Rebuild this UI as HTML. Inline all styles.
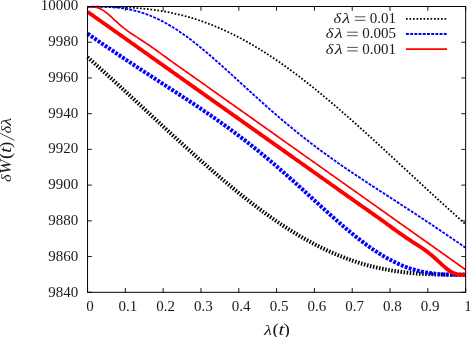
<!DOCTYPE html>
<html><head><meta charset="utf-8"><title>plot</title>
<style>html,body{margin:0;padding:0;background:#fff;}svg{display:block;will-change:transform;}</style></head>
<body><svg width="470" height="337" viewBox="0 0 470 337">
<rect width="470" height="337" fill="#fff"/>
<g fill="none">
<path d="M87.55,6.80 L89.55,6.80 L91.55,6.80 L93.55,6.80 L95.55,6.80 L97.55,6.81 L99.55,6.81 L101.55,6.82 L103.55,6.83 L105.55,6.85 L107.56,6.87 L109.56,6.90 L111.56,6.93 L113.56,6.97 L115.56,7.02 L117.56,7.07 L119.56,7.13 L121.56,7.20 L123.56,7.28 L125.56,7.37 L127.56,7.47 L129.56,7.58 L131.56,7.70 L133.56,7.83 L135.56,7.97 L137.56,8.12 L139.56,8.29 L141.56,8.47 L143.56,8.66 L145.57,8.87 L147.57,9.08 L149.57,9.32 L151.57,9.57 L153.57,9.83 L155.57,10.11 L157.57,10.40 L159.57,10.71 L161.57,11.03 L163.57,11.37 L165.57,11.73 L167.57,12.11 L169.57,12.50 L171.57,12.90 L173.57,13.33 L175.57,13.77 L177.57,14.23 L179.57,14.71 L181.57,15.21 L183.58,15.72 L185.58,16.25 L187.58,16.81 L189.58,17.37 L191.58,17.96 L193.58,18.57 L195.58,19.19 L197.58,19.84 L199.58,20.50 L201.58,21.18 L203.58,21.89 L205.58,22.61 L207.58,23.35 L209.58,24.11 L211.58,24.88 L213.58,25.68 L215.58,26.50 L217.58,27.33 L219.58,28.19 L221.59,29.06 L223.59,29.95 L225.59,30.86 L227.59,31.79 L229.59,32.74 L231.59,33.71 L233.59,34.70 L235.59,35.70 L237.59,36.73 L239.59,37.77 L241.59,38.83 L243.59,39.91 L245.59,41.01 L247.59,42.12 L249.59,43.25 L251.59,44.41 L253.59,45.57 L255.59,46.76 L257.59,47.96 L259.60,49.18 L261.60,50.42 L263.60,51.67 L265.60,52.94 L267.60,54.23 L269.60,55.53 L271.60,56.85 L273.60,58.19 L275.60,59.54 L277.60,60.90 L279.60,62.29 L281.60,63.68 L283.60,65.09 L285.60,66.52 L287.60,67.96 L289.60,69.41 L291.60,70.88 L293.60,72.36 L295.61,73.86 L297.61,75.37 L299.61,76.89 L301.61,78.42 L303.61,79.97 L305.61,81.53 L307.61,83.10 L309.61,84.68 L311.61,86.28 L313.61,87.88 L315.61,89.50 L317.61,91.13 L319.61,92.77 L321.61,94.41 L323.61,96.07 L325.61,97.74 L327.61,99.42 L329.61,101.10 L331.61,102.80 L333.62,104.50 L335.62,106.22 L337.62,107.94 L339.62,109.67 L341.62,111.40 L343.62,113.15 L345.62,114.90 L347.62,116.66 L349.62,118.42 L351.62,120.19 L353.62,121.97 L355.62,123.75 L357.62,125.54 L359.62,127.34 L361.62,129.14 L363.62,130.94 L365.62,132.75 L367.62,134.56 L369.62,136.38 L371.63,138.20 L373.63,140.03 L375.63,141.85 L377.63,143.69 L379.63,145.52 L381.63,147.36 L383.63,149.20 L385.63,151.04 L387.63,152.88 L389.63,154.73 L391.63,156.58 L393.63,158.43 L395.63,160.28 L397.63,162.13 L399.63,163.98 L401.63,165.83 L403.63,167.68 L405.63,169.54 L407.63,171.39 L409.64,173.24 L411.64,175.09 L413.64,176.94 L415.64,178.79 L417.64,180.64 L419.64,182.49 L421.64,184.34 L423.64,186.19 L425.64,188.03 L427.64,189.87 L429.64,191.71 L431.64,193.55 L433.64,195.38 L435.64,197.22 L437.64,199.05 L439.64,200.87 L441.64,202.70 L443.64,204.52 L445.64,206.34 L447.65,208.15 L449.65,209.96 L451.65,211.77 L453.65,213.58 L455.65,215.38 L457.65,217.17 L459.65,218.96 L461.65,220.75 L463.65,222.53 L465.65,224.31" stroke="#000" stroke-width="1.8" stroke-dasharray="1.7 1.8"/>
<path d="M87.55,6.80 L89.55,6.80 L91.55,6.79 L93.55,6.79 L95.55,6.79 L97.55,6.79 L99.55,6.80 L101.55,6.83 L103.55,6.86 L105.55,6.92 L107.56,6.99 L109.56,7.08 L111.56,7.19 L113.56,7.33 L115.56,7.49 L117.56,7.68 L119.56,7.90 L121.56,8.15 L123.56,8.44 L125.56,8.75 L127.56,9.10 L129.56,9.48 L131.56,9.91 L133.56,10.36 L135.56,10.86 L137.56,11.39 L139.56,11.97 L141.56,12.58 L143.56,13.23 L145.57,13.93 L147.57,14.66 L149.57,15.43 L151.57,16.25 L153.57,17.10 L155.57,17.99 L157.57,18.93 L159.57,19.90 L161.57,20.91 L163.57,21.96 L165.57,23.05 L167.57,24.17 L169.57,25.34 L171.57,26.54 L173.57,27.77 L175.57,29.04 L177.57,30.34 L179.57,31.68 L181.57,33.05 L183.58,34.45 L185.58,35.87 L187.58,37.33 L189.58,38.82 L191.58,40.33 L193.58,41.87 L195.58,43.44 L197.58,45.03 L199.58,46.64 L201.58,48.27 L203.58,49.93 L205.58,51.60 L207.58,53.29 L209.58,55.00 L211.58,56.72 L213.58,58.46 L215.58,60.21 L217.58,61.98 L219.58,63.76 L221.59,65.54 L223.59,67.34 L225.59,69.14 L227.59,70.96 L229.59,72.77 L231.59,74.60 L233.59,76.42 L235.59,78.25 L237.59,80.09 L239.59,81.92 L241.59,83.76 L243.59,85.59 L245.59,87.42 L247.59,89.25 L249.59,91.08 L251.59,92.91 L253.59,94.73 L255.59,96.54 L257.59,98.35 L259.60,100.16 L261.60,101.96 L263.60,103.75 L265.60,105.53 L267.60,107.30 L269.60,109.07 L271.60,110.83 L273.60,112.57 L275.60,114.31 L277.60,116.04 L279.60,117.75 L281.60,119.46 L283.60,121.15 L285.60,122.84 L287.60,124.51 L289.60,126.17 L291.60,127.82 L293.60,129.46 L295.61,131.08 L297.61,132.70 L299.61,134.30 L301.61,135.89 L303.61,137.47 L305.61,139.04 L307.61,140.59 L309.61,142.14 L311.61,143.67 L313.61,145.19 L315.61,146.70 L317.61,148.20 L319.61,149.69 L321.61,151.16 L323.61,152.63 L325.61,154.09 L327.61,155.54 L329.61,156.97 L331.61,158.40 L333.62,159.82 L335.62,161.23 L337.62,162.64 L339.62,164.03 L341.62,165.42 L343.62,166.80 L345.62,168.17 L347.62,169.53 L349.62,170.89 L351.62,172.24 L353.62,173.59 L355.62,174.93 L357.62,176.26 L359.62,177.59 L361.62,178.92 L363.62,180.24 L365.62,181.56 L367.62,182.87 L369.62,184.19 L371.63,185.49 L373.63,186.80 L375.63,188.10 L377.63,189.40 L379.63,190.70 L381.63,192.00 L383.63,193.30 L385.63,194.59 L387.63,195.89 L389.63,197.18 L391.63,198.48 L393.63,199.77 L395.63,201.07 L397.63,202.37 L399.63,203.66 L401.63,204.96 L403.63,206.26 L405.63,207.56 L407.63,208.87 L409.64,210.17 L411.64,211.48 L413.64,212.79 L415.64,214.10 L417.64,215.41 L419.64,216.73 L421.64,218.05 L423.64,219.37 L425.64,220.69 L427.64,222.02 L429.64,223.35 L431.64,224.69 L433.64,226.02 L435.64,227.36 L437.64,228.71 L439.64,230.06 L441.64,231.41 L443.64,232.76 L445.64,234.12 L447.65,235.48 L449.65,236.84 L451.65,238.21 L453.65,239.58 L455.65,240.96 L457.65,242.34 L459.65,243.72 L461.65,245.10 L463.65,246.49 L465.65,247.88" stroke="#0000ff" stroke-width="1.85" stroke-dasharray="2.9 1.3"/>
<path d="M87.55,6.80 L89.55,6.77 L91.55,6.76 L93.55,6.86 L95.55,7.14 L97.55,7.64 L99.55,8.39 L101.55,9.39 L103.55,10.63 L105.55,12.06 L107.56,13.67 L109.56,15.39 L111.56,17.20 L113.56,19.05 L115.56,20.91 L117.56,22.73 L119.56,24.51 L121.56,26.23 L123.56,27.87 L125.56,29.43 L127.56,30.93 L129.56,32.35 L131.56,33.73 L133.56,35.06 L135.56,36.37 L137.56,37.66 L139.56,38.94 L141.56,40.23 L143.56,41.53 L145.57,42.86 L147.57,44.20 L149.57,45.57 L151.57,46.95 L153.57,48.36 L155.57,49.79 L157.57,51.23 L159.57,52.68 L161.57,54.13 L163.57,55.59 L165.57,57.05 L167.57,58.50 L169.57,59.95 L171.57,61.39 L173.57,62.83 L175.57,64.25 L177.57,65.68 L179.57,67.09 L181.57,68.50 L183.58,69.91 L185.58,71.32 L187.58,72.72 L189.58,74.13 L191.58,75.54 L193.58,76.94 L195.58,78.35 L197.58,79.76 L199.58,81.18 L201.58,82.59 L203.58,84.01 L205.58,85.43 L207.58,86.85 L209.58,88.27 L211.58,89.69 L213.58,91.11 L215.58,92.53 L217.58,93.95 L219.58,95.37 L221.59,96.79 L223.59,98.21 L225.59,99.63 L227.59,101.05 L229.59,102.47 L231.59,103.88 L233.59,105.30 L235.59,106.72 L237.59,108.13 L239.59,109.55 L241.59,110.96 L243.59,112.38 L245.59,113.80 L247.59,115.22 L249.59,116.63 L251.59,118.05 L253.59,119.47 L255.59,120.89 L257.59,122.30 L259.60,123.72 L261.60,125.14 L263.60,126.56 L265.60,127.97 L267.60,129.39 L269.60,130.81 L271.60,132.23 L273.60,133.64 L275.60,135.06 L277.60,136.48 L279.60,137.90 L281.60,139.31 L283.60,140.73 L285.60,142.15 L287.60,143.57 L289.60,144.98 L291.60,146.40 L293.60,147.82 L295.61,149.24 L297.61,150.65 L299.61,152.07 L301.61,153.49 L303.61,154.91 L305.61,156.32 L307.61,157.74 L309.61,159.16 L311.61,160.58 L313.61,161.99 L315.61,163.41 L317.61,164.83 L319.61,166.25 L321.61,167.66 L323.61,169.08 L325.61,170.50 L327.61,171.92 L329.61,173.33 L331.61,174.75 L333.62,176.17 L335.62,177.59 L337.62,179.00 L339.62,180.42 L341.62,181.84 L343.62,183.25 L345.62,184.67 L347.62,186.09 L349.62,187.51 L351.62,188.92 L353.62,190.34 L355.62,191.76 L357.62,193.18 L359.62,194.59 L361.62,196.01 L363.62,197.43 L365.62,198.85 L367.62,200.26 L369.62,201.68 L371.63,203.10 L373.63,204.52 L375.63,205.93 L377.63,207.35 L379.63,208.77 L381.63,210.19 L383.63,211.60 L385.63,213.02 L387.63,214.44 L389.63,215.86 L391.63,217.27 L393.63,218.69 L395.63,220.11 L397.63,221.53 L399.63,222.94 L401.63,224.36 L403.63,225.78 L405.63,227.20 L407.63,228.61 L409.64,230.03 L411.64,231.45 L413.64,232.87 L415.64,234.28 L417.64,235.70 L419.64,237.12 L421.64,238.54 L423.64,239.95 L425.64,241.37 L427.64,242.79 L429.64,244.21 L431.64,245.62 L433.64,247.04 L435.64,248.46 L437.64,249.88 L439.64,251.29 L441.64,252.71 L443.64,254.13 L445.64,255.55 L447.65,256.96 L449.65,258.38 L451.65,259.80 L453.65,261.22 L455.65,262.63 L457.65,264.05 L459.65,265.47 L461.65,266.89 L463.65,268.30 L465.65,269.72" stroke="#ff0000" stroke-width="1.7"/>
<path d="M87.55,57.19 L89.55,58.97 L91.55,60.75 L93.55,62.54 L95.55,64.33 L97.55,66.12 L99.55,67.92 L101.55,69.73 L103.55,71.54 L105.55,73.35 L107.56,75.16 L109.56,76.98 L111.56,78.80 L113.56,80.63 L115.56,82.45 L117.56,84.28 L119.56,86.12 L121.56,87.95 L123.56,89.79 L125.56,91.63 L127.56,93.47 L129.56,95.31 L131.56,97.16 L133.56,99.01 L135.56,100.86 L137.56,102.71 L139.56,104.56 L141.56,106.41 L143.56,108.26 L145.57,110.11 L147.57,111.96 L149.57,113.82 L151.57,115.67 L153.57,117.52 L155.57,119.37 L157.57,121.22 L159.57,123.07 L161.57,124.92 L163.57,126.77 L165.57,128.62 L167.57,130.46 L169.57,132.30 L171.57,134.14 L173.57,135.98 L175.57,137.81 L177.57,139.65 L179.57,141.47 L181.57,143.30 L183.58,145.12 L185.58,146.94 L187.58,148.75 L189.58,150.56 L191.58,152.36 L193.58,154.16 L195.58,155.96 L197.58,157.75 L199.58,159.53 L201.58,161.31 L203.58,163.08 L205.58,164.84 L207.58,166.60 L209.58,168.35 L211.58,170.10 L213.58,171.83 L215.58,173.56 L217.58,175.28 L219.58,177.00 L221.59,178.70 L223.59,180.40 L225.59,182.08 L227.59,183.76 L229.59,185.43 L231.59,187.09 L233.59,188.73 L235.59,190.37 L237.59,192.00 L239.59,193.62 L241.59,195.22 L243.59,196.82 L245.59,198.40 L247.59,199.97 L249.59,201.53 L251.59,203.08 L253.59,204.61 L255.59,206.13 L257.59,207.64 L259.60,209.14 L261.60,210.62 L263.60,212.09 L265.60,213.54 L267.60,214.98 L269.60,216.41 L271.60,217.82 L273.60,219.21 L275.60,220.60 L277.60,221.96 L279.60,223.31 L281.60,224.65 L283.60,225.97 L285.60,227.27 L287.60,228.56 L289.60,229.83 L291.60,231.08 L293.60,232.32 L295.61,233.54 L297.61,234.74 L299.61,235.93 L301.61,237.09 L303.61,238.25 L305.61,239.38 L307.61,240.49 L309.61,241.59 L311.61,242.67 L313.61,243.73 L315.61,244.77 L317.61,245.80 L319.61,246.80 L321.61,247.79 L323.61,248.76 L325.61,249.71 L327.61,250.64 L329.61,251.55 L331.61,252.44 L333.62,253.31 L335.62,254.17 L337.62,255.00 L339.62,255.82 L341.62,256.62 L343.62,257.39 L345.62,258.15 L347.62,258.89 L349.62,259.61 L351.62,260.32 L353.62,261.00 L355.62,261.66 L357.62,262.31 L359.62,262.93 L361.62,263.54 L363.62,264.13 L365.62,264.69 L367.62,265.25 L369.62,265.78 L371.63,266.29 L373.63,266.79 L375.63,267.27 L377.63,267.73 L379.63,268.17 L381.63,268.60 L383.63,269.00 L385.63,269.39 L387.63,269.77 L389.63,270.13 L391.63,270.47 L393.63,270.79 L395.63,271.10 L397.63,271.39 L399.63,271.67 L401.63,271.93 L403.63,272.18 L405.63,272.42 L407.63,272.63 L409.64,272.84 L411.64,273.03 L413.64,273.21 L415.64,273.38 L417.64,273.53 L419.64,273.67 L421.64,273.80 L423.64,273.92 L425.64,274.03 L427.64,274.13 L429.64,274.22 L431.64,274.30 L433.64,274.37 L435.64,274.43 L437.64,274.48 L439.64,274.53 L441.64,274.57 L443.64,274.60 L445.64,274.63 L447.65,274.65 L449.65,274.67 L451.65,274.68 L453.65,274.69 L455.65,274.69 L457.65,274.70 L459.65,274.70 L461.65,274.70 L463.65,274.70 L465.65,274.70" stroke="#000" stroke-width="4" stroke-dasharray="1.5 1.61"/>
<path d="M87.55,33.62 L89.55,35.01 L91.55,36.40 L93.55,37.78 L95.55,39.16 L97.55,40.54 L99.55,41.92 L101.55,43.29 L103.55,44.66 L105.55,46.02 L107.56,47.38 L109.56,48.74 L111.56,50.09 L113.56,51.44 L115.56,52.79 L117.56,54.14 L119.56,55.48 L121.56,56.81 L123.56,58.15 L125.56,59.48 L127.56,60.81 L129.56,62.13 L131.56,63.45 L133.56,64.77 L135.56,66.09 L137.56,67.40 L139.56,68.71 L141.56,70.02 L143.56,71.33 L145.57,72.63 L147.57,73.94 L149.57,75.24 L151.57,76.54 L153.57,77.84 L155.57,79.13 L157.57,80.43 L159.57,81.73 L161.57,83.02 L163.57,84.32 L165.57,85.61 L167.57,86.91 L169.57,88.20 L171.57,89.50 L173.57,90.80 L175.57,92.10 L177.57,93.40 L179.57,94.70 L181.57,96.01 L183.58,97.31 L185.58,98.63 L187.58,99.94 L189.58,101.26 L191.58,102.58 L193.58,103.91 L195.58,105.24 L197.58,106.57 L199.58,107.91 L201.58,109.26 L203.58,110.61 L205.58,111.97 L207.58,113.33 L209.58,114.70 L211.58,116.08 L213.58,117.47 L215.58,118.86 L217.58,120.27 L219.58,121.68 L221.59,123.10 L223.59,124.53 L225.59,125.96 L227.59,127.41 L229.59,128.87 L231.59,130.34 L233.59,131.81 L235.59,133.30 L237.59,134.80 L239.59,136.31 L241.59,137.83 L243.59,139.36 L245.59,140.91 L247.59,142.46 L249.59,144.03 L251.59,145.61 L253.59,147.20 L255.59,148.80 L257.59,150.42 L259.60,152.04 L261.60,153.68 L263.60,155.33 L265.60,156.99 L267.60,158.66 L269.60,160.35 L271.60,162.04 L273.60,163.75 L275.60,165.46 L277.60,167.19 L279.60,168.93 L281.60,170.67 L283.60,172.43 L285.60,174.20 L287.60,175.97 L289.60,177.75 L291.60,179.54 L293.60,181.34 L295.61,183.15 L297.61,184.96 L299.61,186.77 L301.61,188.59 L303.61,190.42 L305.61,192.25 L307.61,194.08 L309.61,195.91 L311.61,197.74 L313.61,199.58 L315.61,201.41 L317.61,203.25 L319.61,205.08 L321.61,206.90 L323.61,208.73 L325.61,210.54 L327.61,212.36 L329.61,214.16 L331.61,215.96 L333.62,217.74 L335.62,219.52 L337.62,221.29 L339.62,223.04 L341.62,224.78 L343.62,226.50 L345.62,228.21 L347.62,229.90 L349.62,231.57 L351.62,233.23 L353.62,234.86 L355.62,236.47 L357.62,238.06 L359.62,239.63 L361.62,241.17 L363.62,242.68 L365.62,244.17 L367.62,245.63 L369.62,247.05 L371.63,248.45 L373.63,249.82 L375.63,251.16 L377.63,252.46 L379.63,253.73 L381.63,254.96 L383.63,256.16 L385.63,257.33 L387.63,258.45 L389.63,259.54 L391.63,260.59 L393.63,261.60 L395.63,262.57 L397.63,263.51 L399.63,264.40 L401.63,265.25 L403.63,266.07 L405.63,266.84 L407.63,267.57 L409.64,268.27 L411.64,268.92 L413.64,269.53 L415.64,270.11 L417.64,270.64 L419.64,271.14 L421.64,271.59 L423.64,272.02 L425.64,272.40 L427.64,272.75 L429.64,273.06 L431.64,273.35 L433.64,273.60 L435.64,273.82 L437.64,274.01 L439.64,274.17 L441.64,274.31 L443.64,274.42 L445.64,274.51 L447.65,274.58 L449.65,274.64 L451.65,274.67 L453.65,274.70 L455.65,274.71 L457.65,274.71 L459.65,274.71 L461.65,274.71 L463.65,274.70 L465.65,274.70" stroke="#0000ff" stroke-width="4" stroke-dasharray="2.8 1.4"/>
<path d="M87.55,11.78 L89.55,13.20 L91.55,14.61 L93.55,16.03 L95.55,17.45 L97.55,18.87 L99.55,20.28 L101.55,21.70 L103.55,23.12 L105.55,24.54 L107.56,25.95 L109.56,27.37 L111.56,28.79 L113.56,30.21 L115.56,31.62 L117.56,33.04 L119.56,34.46 L121.56,35.88 L123.56,37.29 L125.56,38.71 L127.56,40.13 L129.56,41.55 L131.56,42.96 L133.56,44.38 L135.56,45.80 L137.56,47.22 L139.56,48.63 L141.56,50.05 L143.56,51.47 L145.57,52.89 L147.57,54.30 L149.57,55.72 L151.57,57.14 L153.57,58.56 L155.57,59.97 L157.57,61.39 L159.57,62.81 L161.57,64.23 L163.57,65.64 L165.57,67.06 L167.57,68.48 L169.57,69.90 L171.57,71.31 L173.57,72.73 L175.57,74.15 L177.57,75.57 L179.57,76.98 L181.57,78.40 L183.58,79.82 L185.58,81.24 L187.58,82.65 L189.58,84.07 L191.58,85.49 L193.58,86.91 L195.58,88.32 L197.58,89.74 L199.58,91.16 L201.58,92.58 L203.58,93.99 L205.58,95.41 L207.58,96.83 L209.58,98.25 L211.58,99.66 L213.58,101.08 L215.58,102.50 L217.58,103.91 L219.58,105.33 L221.59,106.75 L223.59,108.17 L225.59,109.58 L227.59,111.00 L229.59,112.42 L231.59,113.84 L233.59,115.25 L235.59,116.67 L237.59,118.09 L239.59,119.51 L241.59,120.92 L243.59,122.34 L245.59,123.76 L247.59,125.18 L249.59,126.59 L251.59,128.01 L253.59,129.43 L255.59,130.85 L257.59,132.26 L259.60,133.68 L261.60,135.10 L263.60,136.52 L265.60,137.93 L267.60,139.35 L269.60,140.77 L271.60,142.19 L273.60,143.60 L275.60,145.02 L277.60,146.44 L279.60,147.86 L281.60,149.27 L283.60,150.69 L285.60,152.11 L287.60,153.53 L289.60,154.94 L291.60,156.36 L293.60,157.78 L295.61,159.20 L297.61,160.61 L299.61,162.03 L301.61,163.45 L303.61,164.87 L305.61,166.28 L307.61,167.70 L309.61,169.12 L311.61,170.54 L313.61,171.95 L315.61,173.37 L317.61,174.78 L319.61,176.20 L321.61,177.62 L323.61,179.03 L325.61,180.45 L327.61,181.87 L329.61,183.29 L331.61,184.71 L333.62,186.13 L335.62,187.55 L337.62,188.97 L339.62,190.39 L341.62,191.81 L343.62,193.23 L345.62,194.65 L347.62,196.07 L349.62,197.49 L351.62,198.91 L353.62,200.32 L355.62,201.74 L357.62,203.15 L359.62,204.56 L361.62,205.96 L363.62,207.37 L365.62,208.78 L367.62,210.18 L369.62,211.59 L371.63,213.00 L373.63,214.41 L375.63,215.82 L377.63,217.25 L379.63,218.67 L381.63,220.11 L383.63,221.55 L385.63,223.00 L387.63,224.45 L389.63,225.91 L391.63,227.37 L393.63,228.82 L395.63,230.27 L397.63,231.71 L399.63,233.14 L401.63,234.55 L403.63,235.93 L405.63,237.30 L407.63,238.64 L409.64,239.97 L411.64,241.27 L413.64,242.56 L415.64,243.84 L417.64,245.13 L419.64,246.44 L421.64,247.77 L423.64,249.15 L425.64,250.57 L427.64,252.07 L429.64,253.63 L431.64,255.27 L433.64,256.99 L435.64,258.77 L437.64,260.59 L439.64,262.45 L441.64,264.30 L443.64,266.11 L445.64,267.83 L447.65,269.44 L449.65,270.87 L451.65,272.11 L453.65,273.11 L455.65,273.86 L457.65,274.36 L459.65,274.64 L461.65,274.74 L463.65,274.73 L465.65,274.70" stroke="#ff0000" stroke-width="3.85"/>
</g>
<path d="M87.55,292.3 v-4.3 M87.55,6.5 v4.3 M125.36,292.3 v-4.3 M125.36,6.5 v4.3 M163.17,292.3 v-4.3 M163.17,6.5 v4.3 M200.98,292.3 v-4.3 M200.98,6.5 v4.3 M238.79,292.3 v-4.3 M238.79,6.5 v4.3 M276.60,292.3 v-4.3 M276.60,6.5 v4.3 M314.41,292.3 v-4.3 M314.41,6.5 v4.3 M352.22,292.3 v-4.3 M352.22,6.5 v4.3 M390.03,292.3 v-4.3 M390.03,6.5 v4.3 M427.84,292.3 v-4.3 M427.84,6.5 v4.3 M465.65,292.3 v-4.3 M465.65,6.5 v4.3 M87.55,292.30 h4.3 M465.65,292.30 h-4.3 M87.55,256.57 h4.3 M465.65,256.57 h-4.3 M87.55,220.85 h4.3 M465.65,220.85 h-4.3 M87.55,185.12 h4.3 M465.65,185.12 h-4.3 M87.55,149.40 h4.3 M465.65,149.40 h-4.3 M87.55,113.68 h4.3 M465.65,113.68 h-4.3 M87.55,77.95 h4.3 M465.65,77.95 h-4.3 M87.55,42.22 h4.3 M465.65,42.22 h-4.3 M87.55,6.50 h4.3 M465.65,6.50 h-4.3" stroke="#000" stroke-width="0.9" fill="none"/>
<rect x="87.55" y="6.5" width="378.09999999999997" height="285.8" stroke="#000" stroke-width="1" fill="none"/>
<g fill="none">
<path d="M406,18.9 H447" stroke="#000" stroke-width="1.8" stroke-dasharray="1.7 1.8"/>
<path d="M406,34.0 H447" stroke="#0000ff" stroke-width="1.85" stroke-dasharray="2.9 1.3"/>
<path d="M406,49.2 H447" stroke="#ff0000" stroke-width="1.7"/>
</g>
<g font-family="Liberation Serif, serif" font-size="15" fill="#1a1a1a">
<text x="78.2" y="296.60" text-anchor="end">9840</text>
<text x="78.2" y="260.81" text-anchor="end">9860</text>
<text x="78.2" y="225.02" text-anchor="end">9880</text>
<text x="78.2" y="189.24" text-anchor="end">9900</text>
<text x="78.2" y="153.45" text-anchor="end">9920</text>
<text x="78.2" y="117.66" text-anchor="end">9940</text>
<text x="78.2" y="81.87" text-anchor="end">9960</text>
<text x="78.2" y="46.09" text-anchor="end">9980</text>
<text x="78.2" y="10.30" text-anchor="end">10000</text>
<text x="89.95" y="311.2" text-anchor="middle">0</text>
<text x="127.76" y="311.2" text-anchor="middle">0.1</text>
<text x="165.57" y="311.2" text-anchor="middle">0.2</text>
<text x="203.38" y="311.2" text-anchor="middle">0.3</text>
<text x="241.19" y="311.2" text-anchor="middle">0.4</text>
<text x="279.00" y="311.2" text-anchor="middle">0.5</text>
<text x="316.81" y="311.2" text-anchor="middle">0.6</text>
<text x="354.62" y="311.2" text-anchor="middle">0.7</text>
<text x="392.43" y="311.2" text-anchor="middle">0.8</text>
<text x="430.24" y="311.2" text-anchor="middle">0.9</text>
<text x="468.05" y="311.2" text-anchor="middle">1</text>
<text transform="translate(337.20000000000005,22.9) scale(1.05,1)" x="0" y="0" text-anchor="middle" font-size="15.6" font-style="italic">δ</text>
<text transform="translate(346.20000000000005,22.9) scale(1.2,1)" x="0" y="0" text-anchor="middle" font-size="15.3" font-style="italic">λ</text>
<path d="M354.8,16.799999999999997 h10.6 M354.8,20.299999999999997 h10.6" stroke="#1a1a1a" stroke-width="0.75" fill="none"/>
<text x="396.1" y="22.9" text-anchor="end">0.01</text>
<text transform="translate(329.6,38.3) scale(1.05,1)" x="0" y="0" text-anchor="middle" font-size="15.6" font-style="italic">δ</text>
<text transform="translate(338.6,38.3) scale(1.2,1)" x="0" y="0" text-anchor="middle" font-size="15.3" font-style="italic">λ</text>
<path d="M347.2,32.199999999999996 h10.6 M347.2,35.699999999999996 h10.6" stroke="#1a1a1a" stroke-width="0.75" fill="none"/>
<text x="396.1" y="38.3" text-anchor="end">0.005</text>
<text transform="translate(329.6,53.5) scale(1.05,1)" x="0" y="0" text-anchor="middle" font-size="15.6" font-style="italic">δ</text>
<text transform="translate(338.6,53.5) scale(1.2,1)" x="0" y="0" text-anchor="middle" font-size="15.3" font-style="italic">λ</text>
<path d="M347.2,47.4 h10.6 M347.2,50.9 h10.6" stroke="#1a1a1a" stroke-width="0.75" fill="none"/>
<text x="396.1" y="53.5" text-anchor="end">0.001</text>
<text transform="translate(268.0,334.7) scale(1.2,1)" x="0" y="0" text-anchor="middle" font-size="15.3" font-style="italic">λ</text>
<text transform="translate(275.6,334.7) scale(1.2,1)" x="0" y="0" text-anchor="middle" font-size="16">(</text>
<text transform="translate(281.5,334.7) scale(1.3,1)" x="0" y="0" text-anchor="middle" font-size="16.4" font-style="italic">t</text>
<text transform="translate(286.8,334.7) scale(1.2,1)" x="0" y="0" text-anchor="middle" font-size="16">)</text>
<g transform="translate(11,182) rotate(-90)">
<text transform="translate(3.8,0) scale(1.05,1)" x="0" y="0" text-anchor="middle" font-size="15.6" font-style="italic">δ</text>
<text transform="translate(15.3,0) scale(1.08,1)" x="0" y="0" text-anchor="middle" font-size="16" font-style="italic">W</text>
<text transform="translate(26.2,0) scale(1.2,1)" x="0" y="0" text-anchor="middle" font-size="16">(</text>
<text transform="translate(32.0,0) scale(1.3,1)" x="0" y="0" text-anchor="middle" font-size="16.4" font-style="italic">t</text>
<text transform="translate(37.2,0) scale(1.2,1)" x="0" y="0" text-anchor="middle" font-size="16">)</text>
<text transform="translate(52.2,0) scale(1.05,1)" x="0" y="0" text-anchor="middle" font-size="15.6" font-style="italic">δ</text>
<text transform="translate(60.1,0) scale(1.2,1)" x="0" y="0" text-anchor="middle" font-size="15.3" font-style="italic">λ</text>
<path d="M41.6,3.5 L48.7,-10.8" stroke="#1a1a1a" stroke-width="0.8" fill="none"/>
</g>
</g>
</svg></body></html>
